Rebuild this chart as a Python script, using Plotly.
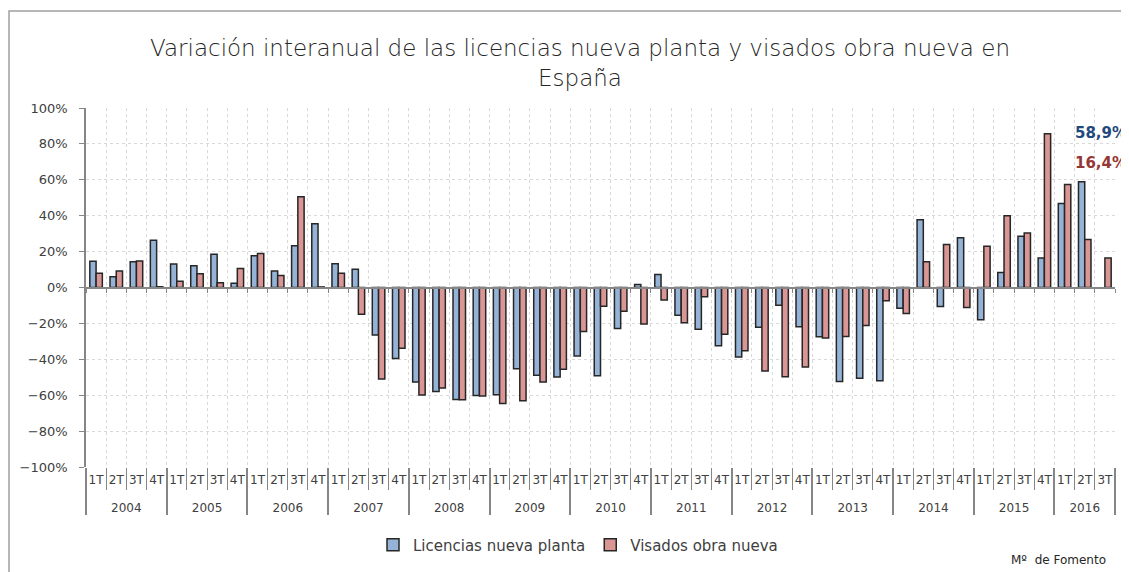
import plotly.graph_objects as go

years = ['2004', '2005', '2006', '2007', '2008', '2009', '2010',
         '2011', '2012', '2013', '2014', '2015', '2016']
quarters = ['1T', '2T', '3T', '4T']
quarters_last_year = ['1T', '2T', '3T']

licencias = [14.6, 6.0, 14.4, 26.3,
             13.1, 12.1, 18.5, 2.4,
             17.7, 9.2, 23.3, 35.5,
             13.3, 10.1, -26.5, -39.6,
             -52.7, -57.9, -62.4, -60.1,
             -59.8, -45.2, -48.9, -49.9,
             -38.1, -49.1, -22.8, 1.7,
             7.3, -15.5, -23.3, -32.5,
             -38.7, -22.2, -9.9, -21.8,
             -27.5, -52.4, -50.6, -51.9,
             -11.5, 37.7, -10.6, 27.7,
             -18.0, 8.4, 28.6, 16.4,
             46.8, 58.9, None]

visados = [8.0, 9.2, 14.8, 0.4,
           3.5, 7.7, 2.6, 10.6,
           18.9, 6.7, 50.6, 0.3,
           8.0, -14.9, -51.0, -33.8,
           -59.9, -56.0, -62.6, -60.5,
           -64.6, -63.1, -52.7, -45.6,
           -24.5, -10.5, -13.3, -20.4,
           -6.9, -19.6, -5.2, -26.1,
           -35.3, -46.5, -49.7, -44.3,
           -28.1, -27.3, -21.2, -7.4,
           -14.5, 14.3, 24.0, -11.2,
           23.0, 40.0, 30.3, 85.7,
           57.4, 26.8, 16.4]

series_names = ['Licencias nueva planta', 'Visados obra nueva']
title_text = 'Variación interanual de las licencias nueva planta y visados obra nueva en<br>España'
source_text = 'Mº  de Fomento'

# build the two-level category axis (year row pushed down one line)
x_year, x_q = [], []
for y in years:
    qs = quarters_last_year if y == years[-1] else quarters
    for q in qs:
        x_year.append('<br>' + y)
        x_q.append(q)
idx = list(range(len(x_q)))

FONT = 'DejaVu Sans'
BLUE = '#95B3D7'
RED = '#D99694'
EDGE = '#262626'

fig = go.Figure()
fig.add_trace(go.Bar(x=[x_year, x_q], y=licencias, name=series_names[0],
                     marker=dict(color=BLUE, line=dict(color=EDGE, width=1.5))))
fig.add_trace(go.Bar(x=[x_year, x_q], y=visados, name=series_names[1],
                     marker=dict(color=RED, line=dict(color=EDGE, width=1.5))))
# helper trace for the category axis drawn at zero
fig.add_trace(go.Scatter(x=idx, y=[None] * len(idx), xaxis='x2', showlegend=False,
                         hoverinfo='skip', mode='lines'))

def fmt(v):
    return f'{v:.1f}%'.replace('.', ',')

last_lic = [v for v in licencias if v is not None][-1]
last_vis = [v for v in visados if v is not None][-1]

# page body has an 8px margin: figure origin sits at screen (8, 8)
OFF = 8
W, H = 1129 - OFF, 572 - OFF
L, R, T, B = 86 - OFF, 14, 108 - OFF, 105
pw, ph = W - L - R, H - T - B

def px(xs):
    return (xs - OFF - L) / pw

def py(ys):
    return (H - B - (ys - OFF)) / ph

fig.update_layout(
    width=W, height=H,
    margin=dict(l=L, r=R, t=T, b=B, autoexpand=False),
    paper_bgcolor='white', plot_bgcolor='white',
    font=dict(family=FONT, color='#404040', size=13),
    barmode='group', bargap=0.38, bargroupgap=0,
    title=dict(text=title_text, x=px(580), xref='paper', xanchor='center',
               y=1 - (56 - OFF) / H, yref='container', yanchor='middle',
               font=dict(family=FONT, size=23, color='#262626', weight=200)),
    xaxis=dict(type='multicategory', tickson='boundaries', ticks='outside',
               ticklen=22, tickcolor='#868686', tickwidth=1, tickangle=0,
               automargin=False, ticklabelstandoff=4,
               showgrid=True, gridcolor='#D9D9D9', griddash='dot', gridwidth=1,
               showline=False, dividercolor='#868686', dividerwidth=1.5,
               tickfont=dict(family=FONT, size=12, color='#404040'),
               zeroline=False),
    xaxis2=dict(overlaying='x', anchor='free', position=0.5, side='bottom',
                range=[-0.5, len(idx) - 0.5], tick0=-0.5, dtick=1,
                ticks='outside', ticklen=4, tickcolor='#868686', tickwidth=1,
                showticklabels=False, showgrid=False, showline=True,
                linecolor='#868686', linewidth=2, zeroline=False),
    yaxis=dict(range=[-100, 100], dtick=20, ticksuffix='%', automargin=False,
               showgrid=True, gridcolor='#D9D9D9', griddash='dot', gridwidth=1,
               showline=True, linecolor='#868686', linewidth=1.5,
               ticks='outside', ticklen=5, tickcolor='#868686',
               ticklabelstandoff=9, zeroline=False,
               tickfont=dict(family=FONT, size=13, color='#404040')),
    legend=dict(orientation='h', x=px(578), xanchor='center', y=py(545), yanchor='middle',
                font=dict(family=FONT, size=15, color='#404040'),
                itemwidth=30, tracegroupgap=0),
    showlegend=True,
    shapes=[dict(type='rect', xref='paper', yref='paper',
                 x0=px(9), x1=px(1140), y0=py(590), y1=py(11),
                 line=dict(color='#A0A0A0', width=1.5), layer='below')],
    annotations=[
        dict(text=f'<b>{fmt(last_lic)}</b>', xref='paper', yref='paper',
             x=px(1129), y=py(133), xanchor='right', yanchor='middle', showarrow=False,
             font=dict(family=FONT, size=15, color='#1F497D')),
        dict(text=f'<b>{fmt(last_vis)}</b>', xref='paper', yref='paper',
             x=px(1129), y=py(163), xanchor='right', yanchor='middle', showarrow=False,
             font=dict(family=FONT, size=15, color='#953735')),
        dict(text=source_text, xref='paper', yref='paper',
             x=px(1108), y=py(560), xanchor='right', yanchor='middle', showarrow=False,
             font=dict(family=FONT, size=12, color='#262626')),
    ],
)

fig.write_html('out.html')
